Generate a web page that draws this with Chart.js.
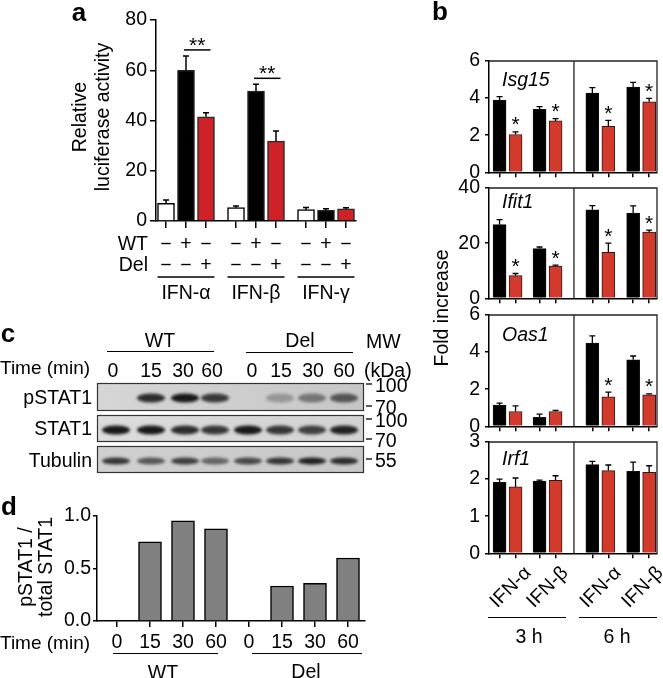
<!DOCTYPE html>
<html>
<head>
<meta charset="utf-8">
<script src="https://cdn.jsdelivr.net/npm/chart.js@4.4.1/dist/chart.umd.min.js"></script>
<style>
html, body { margin: 0; padding: 0; background: #fff; }
#page { position: relative; width: 663px; height: 678px; overflow: hidden;
  font-family: 'Liberation Sans', Arial, Helvetica, sans-serif; color: #000; }
#page canvas { position: absolute; }
.t { position: absolute; white-space: nowrap; font-size: 19.5px; line-height: 1.15; }
.hl { position: absolute; height: 0; border-top: 1.5px solid #000; }
</style>
</head>
<body>
<div id="page"></div>
<script>
'use strict';

// ---------- data: panel a ----------
const aGroups = ['IFN-α', 'IFN-β', 'IFN-γ'];
const aWTRow = ['−', '+', '−', '−', '+', '−', '−', '+', '−'];
const aDelRow = ['−', '−', '+', '−', '−', '+', '−', '−', '+'];
const aNone = [7.0, 5.3, 4.5];
const aNoneErr = [1.4, 0.7, 0.9];
const aWT = [60.0, 51.7, 4.2];
const aWTErr = [5.7, 2.7, 0.7];
const aDel = [41.5, 31.8, 4.8];
const aDelErr = [1.6, 4.0, 0.5];
const aSig = ['**', '**', ''];

// ---------- data: panel b ----------
const bGenes = ['Isg15', 'Ifit1', 'Oas1', 'Irf1'];
const bConds = ['IFN-α', 'IFN-β', 'IFN-α', 'IFN-β'];
const bTimes = ['3 h', '6 h'];
const bMax = [6, 40, 6, 3];
const bStep = [2, 20, 2, 1];
const bWT = [
    [3.90, 3.40, 4.27, 4.60],
    [26.7, 18.0, 32.1, 30.9],
    [1.15, 0.48, 4.48, 3.59],
    [1.91, 1.95, 2.39, 2.21],
];
const bWTErr = [
    [0.18, 0.14, 0.30, 0.25],
    [1.8, 0.6, 1.5, 2.6],
    [0.10, 0.18, 0.39, 0.20],
    [0.09, 0.02, 0.09, 0.25],
];
const bDel = [
    [2.04, 2.77, 2.48, 3.80],
    [8.2, 11.7, 16.7, 24.0],
    [0.80, 0.80, 1.59, 1.70],
    [1.79, 1.97, 2.23, 2.18],
];
const bDelErr = [
    [0.14, 0.12, 0.32, 0.18],
    [0.8, 0.3, 3.3, 0.7],
    [0.30, 0.06, 0.25, 0.05],
    [0.24, 0.12, 0.15, 0.18],
];
const bStars = [
    [1, 1, 1, 1],
    [1, 1, 1, 1],
    [0, 0, 1, 1],
    [0, 0, 0, 0],
];

// ---------- data: panel c (blot) ----------
const cLanes = ['0', '15', '30', '60', '0', '15', '30', '60'];
const cGroups = ['WT', 'Del'];
const cRows = ['pSTAT1', 'STAT1', 'Tubulin'];
const cBands = [
    [0.0, 0.85, 0.95, 0.78, 0.0, 0.28, 0.45, 0.62],
    [0.95, 0.95, 0.85, 0.80, 0.95, 0.80, 0.75, 0.90],
    [0.80, 0.62, 0.75, 0.55, 0.70, 0.80, 0.90, 0.85],
];
const cMW = ['100', '70', '100', '70', '55'];

// ---------- data: panel d ----------
const dTimes = ['0', '15', '30', '60', '0', '15', '30', '60'];
const dGroups = ['WT', 'Del'];
const dRatio = [0, 0.755, 0.955, 0.879, 0, 0.333, 0.359, 0.60];
const dTickLabels = ['0.0', '0.5', '1.0'];

// ---------- layout ----------
const FONT = "'Liberation Sans', Arial, Helvetica, sans-serif";
const aX = { none: [0, 3.5, 7], wt: [1, 4.5, 8], del: [2, 5.5, 9] };
const bX = { wt: [0, 2.5, 5.8, 8.35], del: [1, 3.5, 6.8, 9.35], divider: 4.65 };
const bTop = [61, 188, 315, 442];
const bBot = [173, 299, 427, 554];
const geneY = [79, 201, 334, 458];
const laneX = [116, 151, 185, 215, 248, 280, 312, 344];
const labelX = [113, 151, 183, 212, 252, 281, 313, 344];

Chart.defaults.font.family = FONT;
Chart.defaults.font.size = 19.5;
Chart.defaults.color = '#000';
Chart.defaults.animation = false;
Chart.defaults.plugins.legend.display = false;
Chart.defaults.plugins.tooltip.enabled = false;

const page = document.getElementById('page');

function addCanvas(x, y, w, h) {
    let c = document.createElement('canvas');
    c.width = w;
    c.height = h;
    c.style.left = x + 'px';
    c.style.top = y + 'px';
    c.style.width = w + 'px';
    c.style.height = h + 'px';
    page.appendChild(c);
    return c;
}

function txt(html, x, y, anchor, style) {
    let d = document.createElement('div');
    d.className = 't';
    d.innerHTML = html;
    d.style.left = x + 'px';
    d.style.top = y + 'px';
    let tx = anchor === 'l' ? '0' : anchor === 'r' ? '-100%' : '-50%';
    d.style.transform = `translate(${tx},-50%)`;
    if (style) Object.assign(d.style, style);
    page.appendChild(d);
    return d;
}

function hline(x0, x1, y) {
    let d = document.createElement('div');
    d.className = 'hl';
    d.style.left = x0 + 'px';
    d.style.width = (x1 - x0) + 'px';
    d.style.top = (y - 0.75) + 'px';
    page.appendChild(d);
}

function yAxis(max, step, width, tl, pad, cb) {
    let s = {
        min: 0, max: max,
        ticks: { stepSize: step, padding: pad, color: '#000' },
        grid: { drawOnChartArea: false, tickLength: tl, color: '#000', lineWidth: 1.5 },
        border: { color: '#000', width: 1.5 },
        afterFit: sc => { sc.width = width; },
    };
    if (cb) s.ticks.callback = cb;
    return s;
}

// linear x axis, no bar offset, ticks only where the bars sit
function xAxis(min, max, ticks, height, tl, tickOpts) {
    return {
        type: 'linear', min: min, max: max, offset: false, bounds: 'data',
        afterBuildTicks: sc => { sc.ticks = ticks.map(v => ({ value: v })); },
        ticks: Object.assign({ autoSkip: false, maxRotation: 0, color: '#000' }, tickOpts),
        grid: { offset: false, drawOnChartArea: false, tickLength: tl, color: '#000', lineWidth: 1.5 },
        border: { color: '#000', width: 1.5 },
        afterFit: sc => { sc.height = height; },
    };
}

const errBars = {
    id: 'errBars',
    afterDatasetsDraw(chart) {
        let ctx = chart.ctx;
        let ys = chart.scales.y;
        chart.data.datasets.forEach((ds, di) => {
            if (!ds.err) return;
            chart.getDatasetMeta(di).data.forEach((bar, i) => {
                let top = ys.getPixelForValue(ds.data[i].y + ds.err[i]);
                ctx.save();
                ctx.strokeStyle = '#000';
                ctx.lineWidth = ds.errLine;
                ctx.beginPath();
                ctx.moveTo(bar.x, bar.y);
                ctx.lineTo(bar.x, top);
                ctx.moveTo(bar.x - ds.errCap, top);
                ctx.lineTo(bar.x + ds.errCap, top);
                ctx.stroke();
                if (ds.stars && ds.stars[i]) {
                    ctx.fillStyle = '#000';
                    ctx.font = '21px ' + FONT;
                    ctx.textAlign = 'center';
                    ctx.textBaseline = 'alphabetic';
                    ctx.fillText('*', bar.x, top - 0.5);
                }
                ctx.restore();
            });
        });
    }
};

// ---------- panel a ----------
const aExtras = {
    id: 'aExtras',
    afterDraw(chart) {
        let ctx = chart.ctx;
        let xs = chart.scales.x, ys = chart.scales.y;
        ctx.save();
        ctx.fillStyle = '#000';
        ctx.strokeStyle = '#000';
        ctx.lineWidth = 1.5;
        aGroups.forEach((g, i) => {
            if (aSig[i]) {
                let top = Math.max(aWT[i] + aWTErr[i], aDel[i] + aDelErr[i]);
                let yl = ys.getPixelForValue(top) - 6;
                let x0 = xs.getPixelForValue(aX.wt[i]) - 2;
                let x1 = xs.getPixelForValue(aX.del[i]) + 4.5;
                ctx.beginPath();
                ctx.moveTo(x0, yl);
                ctx.lineTo(x1, yl);
                ctx.stroke();
                ctx.font = '21px ' + FONT;
                ctx.textAlign = 'center';
                ctx.textBaseline = 'alphabetic';
                ctx.fillText(aSig[i], (x0 + x1) / 2, yl + 2);
            }
            let g0 = xs.getPixelForValue(aX.none[i]) - 8.5;
            let g1 = xs.getPixelForValue(aX.del[i]) + 8.5;
            ctx.beginPath();
            ctx.moveTo(g0, 277);
            ctx.lineTo(g1, 277);
            ctx.stroke();
            ctx.font = '19.5px ' + FONT;
            ctx.textAlign = 'center';
            ctx.textBaseline = 'middle';
            ctx.fillText(g, (g0 + g1) / 2, 294);
        });
        ctx.font = '19.5px ' + FONT;
        ctx.textAlign = 'right';
        ctx.textBaseline = 'middle';
        ctx.fillText('WT', 148, 245);
        ctx.fillText('Del', 148, 266);
        ctx.restore();
    }
};

function drawPanelA() {
    let canvas = addCanvas(0, 0, 380, 305);
    let allX = [...aX.none, ...aX.wt, ...aX.del].sort((p, q) => p - q);
    let mk = (vals, errs, xs, fill, border) => ({
        data: vals.map((v, i) => ({ x: xs[i], y: v })),
        err: errs, errLine: 1.5, errCap: 3,
        backgroundColor: fill, borderColor: border, borderWidth: 1.5,
        barThickness: 17, grouped: false,
    });
    new Chart(canvas, {
        type: 'bar',
        data: {
            datasets: [
                mk(aNone, aNoneErr, aX.none, '#ffffff', '#000000'),
                mk(aWT, aWTErr, aX.wt, '#000000', '#222222'),
                mk(aDel, aDelErr, aX.del, '#cf2128', '#2a2a2a'),
            ],
        },
        options: {
            responsive: false,
            layout: { padding: { left: 0, top: 20, right: 24, bottom: 0 } },
            scales: {
                x: xAxis(-0.5, 9.5, allX, 84, 7, {
                    padding: 6,
                    font: { size: 19.5, lineHeight: 1.07 },
                    callback: (v, i) => [aWTRow[i], aDelRow[i]],
                }),
                y: yAxis(80, 20, 156, 6, 3),
            },
        },
        plugins: [errBars, aExtras],
    });
}

// ---------- panel b ----------
const bFrame = {
    id: 'bFrame',
    afterDraw(chart) {
        let ctx = chart.ctx, a = chart.chartArea;
        let xd = chart.scales.x.getPixelForValue(bX.divider);
        ctx.save();
        ctx.strokeStyle = '#222';
        ctx.lineWidth = 1.3;
        ctx.beginPath();
        ctx.moveTo(a.left, a.top);
        ctx.lineTo(a.right, a.top);
        ctx.lineTo(a.right, a.bottom);
        ctx.moveTo(xd, a.top);
        ctx.lineTo(xd, a.bottom);
        ctx.stroke();
        ctx.restore();
    }
};

function drawPanelB() {
    let allX = [...bX.wt, ...bX.del].sort((p, q) => p - q);
    bGenes.forEach((gene, gi) => {
        let h = bBot[gi] - bTop[gi];
        let canvas = addCanvas(380, bTop[gi] - 20, 283, h + 36);
        new Chart(canvas, {
            type: 'bar',
            data: {
                datasets: [
                    {
                        data: bWT[gi].map((v, i) => ({ x: bX.wt[i], y: v })),
                        err: bWTErr[gi], errLine: 1.3, errCap: 3,
                        backgroundColor: '#000', borderColor: '#111', borderWidth: 1,
                        barThickness: 13, grouped: false,
                    },
                    {
                        data: bDel[gi].map((v, i) => ({ x: bX.del[i], y: v })),
                        err: bDelErr[gi], errLine: 1.3, errCap: 3, stars: bStars[gi],
                        backgroundColor: '#d23a2c', borderColor: '#2a1a1a', borderWidth: 1,
                        barThickness: 13, grouped: false,
                    },
                ],
            },
            options: {
                responsive: false,
                layout: { padding: { left: 0, top: 20, right: 6, bottom: 0 } },
                scales: {
                    x: xAxis(-0.66, 9.84, allX, 16, 5, { display: false }),
                    y: yAxis(bMax[gi], bStep[gi], 109, 4, 5),
                },
            },
            plugins: [errBars, bFrame],
        });
        txt(gene, 502, geneY[gi], 'l', { fontStyle: 'italic' });
    });

    // rotated condition labels and time groups under the last subpanel
    const condEnd = [[519, 561], [556, 561], [609, 561], [651, 561]];
    bConds.forEach((c, i) => {
        let d = document.createElement('div');
        d.className = 't';
        d.textContent = c;
        d.style.right = (663 - condEnd[i][0]) + 'px';
        d.style.top = condEnd[i][1] + 'px';
        d.style.transformOrigin = '100% 0';
        d.style.transform = 'rotate(-45deg)';
        page.appendChild(d);
    });
    hline(488, 566, 618);
    hline(579, 657, 618);
    txt(bTimes[0], 529, 636, 'c');
    txt(bTimes[1], 617, 636, 'c');
    txt('Fold increase', 441, 308, 'c', { transform: 'translate(-50%,-50%) rotate(-90deg)' });
}

// ---------- panel c (western blot) ----------
function drawBlot() {
    let canvas = addCanvas(0, 0, 380, 480);
    let ctx = canvas.getContext('2d');
    const rows = [
        { top: 383, h: 27, band: 398, bh: 9, c0: '#d6d6d6', c1: '#c6c6c6' },
        { top: 415, h: 26, band: 430, bh: 9, c0: '#dcdcdc', c1: '#d2d2d2' },
        { top: 446, h: 26, band: 461, bh: 7, c0: '#d0d0d0', c1: '#c8c8c8' },
    ];
    rows.forEach((r, ri) => {
        let grad = ctx.createLinearGradient(97, 0, 363, 0);
        grad.addColorStop(0, r.c0);
        grad.addColorStop(1, r.c1);
        ctx.fillStyle = grad;
        ctx.fillRect(97, r.top, 266, r.h);
        ctx.save();
        ctx.beginPath();
        ctx.rect(97, r.top, 266, r.h);
        ctx.clip();
        ctx.filter = 'blur(1.4px)';
        cBands[ri].forEach((lv, i) => {
            if (lv <= 0) return;
            ctx.fillStyle = `rgba(15,15,15,${lv})`;
            ctx.beginPath();
            ctx.ellipse(laneX[i], r.band, 14, r.bh / 2, 0, 0, Math.PI * 2);
            ctx.fill();
        });
        ctx.restore();
        ctx.strokeStyle = '#333';
        ctx.lineWidth = 1.2;
        ctx.strokeRect(97.5, r.top + 0.5, 266, r.h);
    });

    // MW markers
    const mwY = [384, 406, 419, 439, 459];
    ctx.strokeStyle = '#000';
    ctx.lineWidth = 1.3;
    mwY.forEach((y, i) => {
        ctx.beginPath();
        ctx.moveTo(366, y);
        ctx.lineTo(372, y);
        ctx.stroke();
        txt(cMW[i], 375, y + 1, 'l');
    });

    txt(cGroups[0], 160, 340, 'c');
    hline(107, 214, 352);
    txt(cGroups[1], 300, 340, 'c');
    hline(246, 353, 353);
    txt('MW', 366, 341, 'l');
    txt('(kDa)', 364, 370, 'l');
    txt('Time (min)', 0, 368, 'l', { fontSize: '19px' });
    cLanes.forEach((l, i) => txt(l, labelX[i], 370, 'c'));
    txt(cRows[0], 92, 397, 'r');
    txt(cRows[1], 92, 428, 'r');
    txt(cRows[2], 92, 460, 'r');
}

// ---------- panel d ----------
function drawPanelD() {
    let canvas = addCanvas(0, 490, 380, 170);
    let xs = dRatio.map((v, i) => i);
    new Chart(canvas, {
        type: 'bar',
        data: {
            datasets: [{
                data: dRatio.map((v, i) => ({ x: xs[i], y: v })),
                backgroundColor: '#808080', borderColor: '#000', borderWidth: 1.5,
                barThickness: 23, grouped: false,
            }],
        },
        options: {
            responsive: false,
            layout: { padding: { left: 0, top: 26, right: 15, bottom: 0 } },
            scales: {
                x: xAxis(-0.606, 7.515, xs, 39, 6, {
                    padding: 4,
                    callback: (v, i) => dTimes[i],
                }),
                y: yAxis(1, 0.5, 97, 4, 2, (v, i) => dTickLabels[i]),
            },
        },
    });
    txt('Time (min)', 0, 643, 'l', { fontSize: '19px' });
    hline(113, 218, 654);
    hline(252, 362, 654);
    txt(dGroups[0], 163, 672, 'c');
    txt(dGroups[1], 306, 671, 'c');
    txt('pSTAT1 /<br>total STAT1', 35, 567, 'c',
        { transform: 'translate(-50%,-50%) rotate(-90deg)', textAlign: 'center', lineHeight: '20px' });
}

drawBlot();
drawPanelA();
drawPanelB();
drawPanelD();

txt('Relative<br>luciferase activity', 91, 117, 'c',
    { transform: 'translate(-50%,-50%) rotate(-90deg)', textAlign: 'center', lineHeight: '23px' });

const bold = { fontWeight: 'bold', fontSize: '26px' };
txt('a', 79, 13, 'c', bold);
txt('b', 440, 12, 'c', bold);
txt('c', 8, 334, 'c', bold);
txt('d', 9, 507, 'c', bold);
</script>
</body>
</html>
